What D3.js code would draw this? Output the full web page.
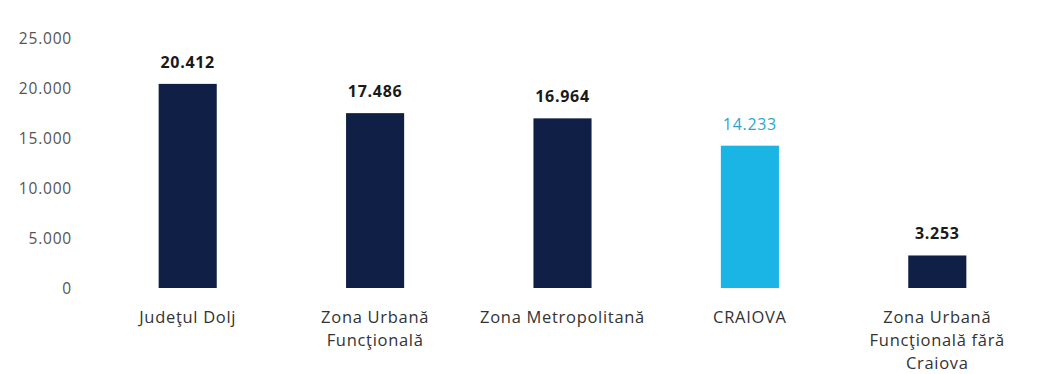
<!DOCTYPE html>
<html><head><meta charset="utf-8">
<script src="https://cdn.jsdelivr.net/npm/d3@7"></script>
<style>
html,body{margin:0;padding:0;background:#fff;}
svg{display:block;}
</style></head>
<body>
<svg id="chart" width="1046" height="374"></svg>
<script>
const categories = ["Judeţul Dolj", "Zona Urbană Funcţională", "Zona Metropolitană", "CRAIOVA", "Zona Urbană Funcţională fără Craiova"];
const categoryLines = [["Judeţul Dolj"], ["Zona Urbană", "Funcţională"], ["Zona Metropolitană"], ["CRAIOVA"], ["Zona Urbană", "Funcţională fără", "Craiova"]];
const values = [20412, 17486, 16964, 14233, 3253];
const valueLabels = ["20.412", "17.486", "16.964", "14.233", "3.253"];
const highlighted = [false, false, false, true, false];
const yTicks = [0, 5000, 10000, 15000, 20000, 25000];
const yTickLabels = ["0", "5.000", "10.000", "15.000", "20.000", "25.000"];

const svg = d3.select("#chart");
const font = "'Open Sans', 'DejaVu Sans', sans-serif";
const x = d3.scaleBand().domain(categories).range([94, 1031]).paddingInner(0.69).paddingOuter(0.345);
const y = d3.scaleLinear().domain([0, 25000]).range([288, 38]);

// y axis labels (no line)
const yAxis = d3.axisLeft(y).tickValues(yTicks).tickSize(0).tickPadding(0)
  .tickFormat((d, i) => yTickLabels[i]);
const gy = svg.append("g").attr("transform", "translate(72,0)").call(yAxis);
gy.select(".domain").remove();
gy.selectAll("text").attr("font-family", font).attr("font-size", 15.5).attr("fill", "#555")
  .attr("letter-spacing", "0.8px").attr("dy", "0.36em");

// bars
svg.append("g").selectAll("rect").data(values).join("rect")
  .attr("x", (d, i) => x(categories[i]))
  .attr("y", d => y(d))
  .attr("width", x.bandwidth())
  .attr("height", d => y(0) - y(d))
  .attr("fill", (d, i) => highlighted[i] ? "#1ab5e4" : "#0f1f45");

// value labels
svg.append("g").selectAll("text").data(values).join("text")
  .attr("x", (d, i) => x(categories[i]) + x.bandwidth() / 2)
  .attr("y", d => y(d) - 16)
  .attr("text-anchor", "middle")
  .attr("font-family", font)
  .attr("font-size", 16)
  .attr("letter-spacing", "0.7px")
  .attr("font-weight", (d, i) => highlighted[i] ? "normal" : "bold")
  .attr("fill", (d, i) => highlighted[i] ? "#2aa8cc" : "#1a1a1a")
  .text((d, i) => valueLabels[i]);

// x axis labels (no line)
const xAxis = d3.axisBottom(x).tickSize(0).tickPadding(0).tickFormat(() => "");
const gx = svg.append("g").attr("transform", "translate(0,288)").call(xAxis);
gx.select(".domain").remove();
gx.selectAll(".tick").each(function(d, i) {
  const t = d3.select(this).select("text");
  t.attr("y", 0).attr("dy", null);
  categoryLines[i].forEach((line, j) => {
    t.append("tspan").attr("x", 0).attr("y", 35 + j * 23).text(line);
  });
});
gx.selectAll("text").attr("font-family", font).attr("font-size", 16.5)
  .attr("fill", "#333").attr("letter-spacing", "0.7px").attr("text-anchor", "middle");
</script>
</body></html>
